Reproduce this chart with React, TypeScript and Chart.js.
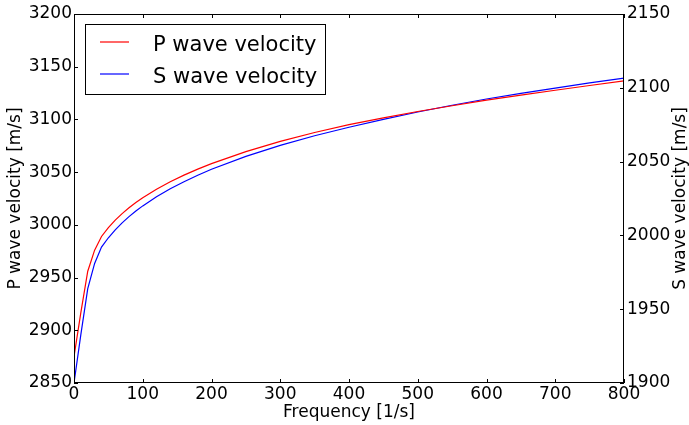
import React, { useEffect, useRef } from "react";
import { Chart, registerables } from "chart.js";

Chart.register(...registerables);

// Data
const frequencies = [0, 10, 20, 30, 40, 50, 60, 70, 80, 90, 100, 120, 140, 160, 180, 200, 250, 300, 350, 400, 450, 500, 550, 600, 650, 700, 750, 800];
const pWaveVelocity = [2875, 2917, 2956, 2976, 2989, 2997.4, 3004.5, 3010.7, 3016.2, 3021.2, 3025.8, 3033.8, 3040.9, 3047.2, 3052.9, 3058.1, 3069.5, 3079.2, 3087.6, 3095.0, 3101.5, 3107.5, 3113.0, 3118.3, 3123.0, 3127.7, 3132.2, 3136.6];
const sWaveVelocity = [1900, 1933, 1964, 1981, 1992.1, 1998.4, 2003.8, 2008.5, 2012.7, 2016.5, 2020.0, 2026.2, 2031.6, 2036.4, 2040.8, 2044.8, 2053.5, 2061.0, 2067.5, 2073.3, 2078.6, 2083.6, 2088.2, 2092.4, 2096.2, 2099.8, 2103.3, 2106.5];

const xTicks = [0, 100, 200, 300, 400, 500, 600, 700, 800];
const pTicks = [2850, 2900, 2950, 3000, 3050, 3100, 3150, 3200];
const sTicks = [1900, 1950, 2000, 2050, 2100, 2150];

const seriesLabels = ["P wave velocity", "S wave velocity"];
const xTitle = "Frequency [1/s]";
const pTitle = "P wave velocity [m/s]";
const sTitle = "S wave velocity [m/s]";

const FONT = "'DejaVu Sans', 'Liberation Sans', sans-serif";

const framePlugin = {
  id: "mplFrame",
  afterDraw(chart: any) {
    const { ctx, chartArea } = chart;
    const { left, right, top, bottom } = chartArea;
    const xs = chart.scales.x;
    const yl = chart.scales.y;
    const yr = chart.scales.y2;
    ctx.save();
    ctx.strokeStyle = "#000";
    ctx.lineWidth = 1;
    // frame
    ctx.strokeRect(left + 0.5, top + 0.5, right - left - 1, bottom - top - 1);
    // inward ticks
    const L = 4;
    ctx.beginPath();
    xs.ticks.forEach((t: any) => {
      const px = Math.round(xs.getPixelForValue(t.value)) + 0.5;
      ctx.moveTo(px, bottom);
      ctx.lineTo(px, bottom - L);
      ctx.moveTo(px, top);
      ctx.lineTo(px, top + L);
    });
    yl.ticks.forEach((t: any) => {
      const py = Math.round(yl.getPixelForValue(t.value)) + 0.5;
      ctx.moveTo(left, py);
      ctx.lineTo(left + L, py);
    });
    yr.ticks.forEach((t: any) => {
      const py = Math.round(yr.getPixelForValue(t.value)) + 0.5;
      ctx.moveTo(right, py);
      ctx.lineTo(right - L, py);
    });
    ctx.stroke();

    // right axis title (reads bottom to top, like matplotlib)
    ctx.fillStyle = "#000";
    ctx.font = "17px " + FONT;
    ctx.textAlign = "center";
    ctx.textBaseline = "middle";
    ctx.translate(681, (top + bottom) / 2);
    ctx.rotate(-Math.PI / 2);
    ctx.fillText(sTitle, 0, 0);
    ctx.setTransform(1, 0, 0, 1, 0, 0);

    // legend
    const bx = 85.5, by = 24.5, bw = 240, bh = 70;
    ctx.fillStyle = "#fff";
    ctx.fillRect(bx, by, bw, bh);
    ctx.strokeStyle = "#000";
    ctx.lineWidth = 1;
    ctx.strokeRect(bx, by, bw, bh);
    const rows = [
      { y: 42, base: 51, color: chart.data.datasets[0].borderColor, label: chart.data.datasets[0].label },
      { y: 74, base: 83, color: chart.data.datasets[1].borderColor, label: chart.data.datasets[1].label },
    ];
    ctx.font = "21px " + FONT;
    ctx.textAlign = "left";
    ctx.textBaseline = "alphabetic";
    rows.forEach((r) => {
      ctx.strokeStyle = r.color;
      ctx.lineWidth = 1.2;
      ctx.beginPath();
      ctx.moveTo(100, r.y);
      ctx.lineTo(129, r.y);
      ctx.stroke();
      ctx.fillStyle = "#000";
      ctx.fillText(r.label, 153, r.base);
    });
    ctx.restore();
  },
};

export default function App() {
  const ref = useRef<HTMLCanvasElement | null>(null);

  useEffect(() => {
    if (!ref.current) return;
    const fmt = (v: any) => String(v);
    const chart = new Chart(ref.current, {
      type: "line",
      data: {
        datasets: [
          {
            label: seriesLabels[0],
            data: frequencies.map((f, i) => ({ x: f, y: pWaveVelocity[i] })),
            borderColor: "#ff0000",
            borderWidth: 1.2,
            pointRadius: 0,
            fill: false,
            tension: 0,
            yAxisID: "y",
          },
          {
            label: seriesLabels[1],
            data: frequencies.map((f, i) => ({ x: f, y: sWaveVelocity[i] })),
            borderColor: "#0000ff",
            borderWidth: 1.2,
            pointRadius: 0,
            fill: false,
            tension: 0,
            yAxisID: "y2",
          },
        ],
      },
      options: {
        animation: false,
        responsive: false,
        maintainAspectRatio: false,
        layout: { padding: { top: 14, left: 0, right: 0, bottom: 0 } },
        plugins: {
          legend: { display: false },
          tooltip: { enabled: false },
        },
        scales: {
          x: {
            type: "linear",
            position: "bottom",
            min: xTicks[0],
            max: xTicks[xTicks.length - 1],
            afterBuildTicks: (s: any) => { s.ticks = xTicks.map((v) => ({ value: v })); },
            afterFit: (s: any) => { s.height = 42; },
            grid: { display: false, drawTicks: false },
            border: { display: false },
            ticks: { callback: fmt, color: "#000", font: { family: FONT, size: 17 }, padding: 1, maxRotation: 0, autoSkip: false },
            title: { display: true, text: xTitle, color: "#000", font: { family: FONT, size: 17 }, padding: { top: 0, bottom: 2 } },
          },
          y: {
            type: "linear",
            position: "left",
            min: pTicks[0],
            max: pTicks[pTicks.length - 1],
            afterBuildTicks: (s: any) => { s.ticks = pTicks.map((v) => ({ value: v })); },
            afterFit: (s: any) => { s.width = 74; },
            grid: { display: false, drawTicks: false },
            border: { display: false },
            ticks: { callback: fmt, color: "#000", font: { family: FONT, size: 17 }, padding: 2, autoSkip: false },
            title: { display: true, text: pTitle, color: "#000", font: { family: FONT, size: 17 }, padding: { top: 5, bottom: 0 } },
          },
          y2: {
            type: "linear",
            position: "right",
            min: sTicks[0],
            max: sTicks[sTicks.length - 1],
            afterBuildTicks: (s: any) => { s.ticks = sTicks.map((v) => ({ value: v })); },
            afterFit: (s: any) => { s.width = 65; },
            grid: { display: false, drawTicks: false },
            border: { display: false },
            ticks: { callback: fmt, color: "#000", font: { family: FONT, size: 17 }, padding: 3, autoSkip: false },
          },
        },
      },
      plugins: [framePlugin],
    } as any);
    return () => chart.destroy();
  }, []);

  return (
    <div style={{ position: "absolute", left: 0, top: 0, width: 689, height: 425, background: "#fff" }}>
      <canvas ref={ref} width={689} height={425} style={{ display: "block" }} />
    </div>
  );
}
